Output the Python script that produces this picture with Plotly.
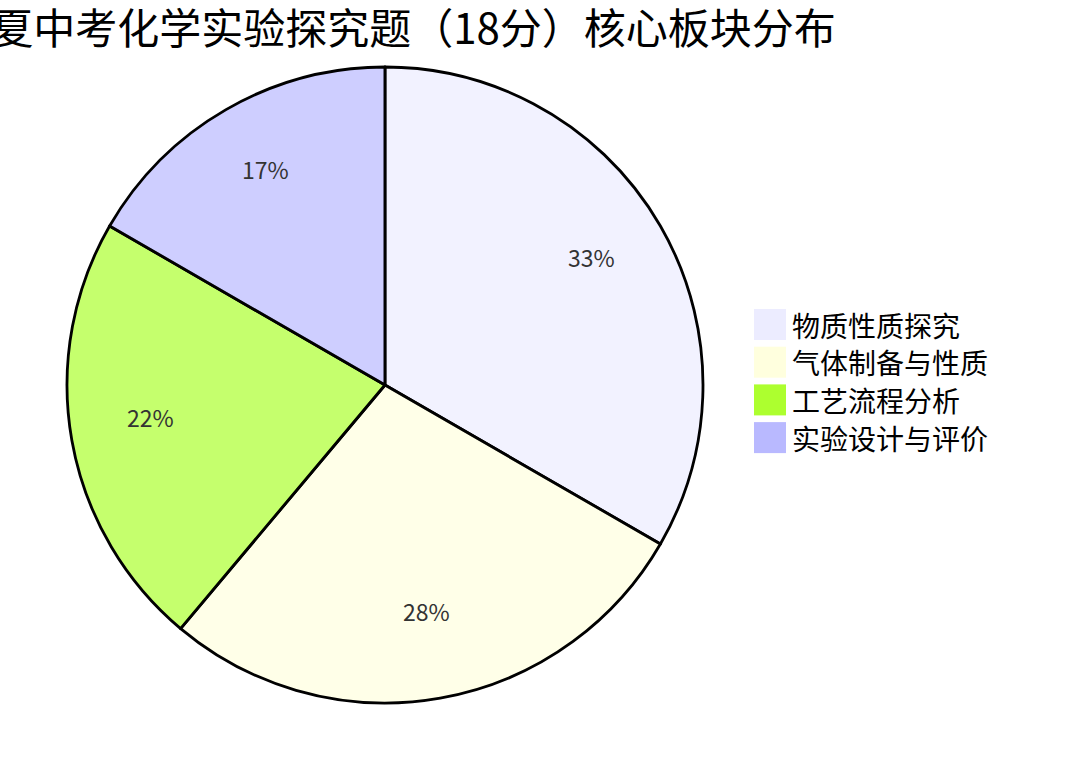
import math
import plotly.graph_objects as go

# 18分实验探究题的板块分值
labels = ['物质性质探究', '气体制备与性质', '工艺流程分析', '实验设计与评价']
scores = [6, 5, 4, 3]
base_colors = ['#ECECFF', '#FFFFDE', '#ADFF2F', '#B9B9FF']
title_text = '宁夏中考化学实验探究题（18分）核心板块分布'

W, H = 1080, 770
FONT = 'Noto Sans CJK SC'

# pie box in pixels
CX, CY, R = 385, 385, 318


def fade(hex_color, a=0.7):
    r, g, b = (int(hex_color[i:i + 2], 16) for i in (1, 3, 5))
    return 'rgba(%d,%d,%d,%.2f)' % (r, g, b, a)


pie = go.Pie(
    labels=labels,
    values=scores,
    sort=False,
    direction='clockwise',
    rotation=0,
    marker=dict(colors=[fade(c) for c in base_colors],
                line=dict(color='black', width=2.8)),
    textinfo='none',
    hoverinfo='label+value+percent',
    showlegend=False,
    domain=dict(x=[(CX - R) / W, (CX + R) / W], y=[1 - (CY + R) / H, 1 - (CY - R) / H]),
)

fig = go.Figure(pie)

notes, shapes = [], []

# percent labels at 3/4 of the radius, like the original chart
total = sum(scores)
cum = 0
for v in scores:
    ang = 2 * math.pi * (cum + v / 2) / total
    cum += v
    px = CX + 0.75 * R * math.sin(ang)
    py = CY - 0.75 * R * math.cos(ang)
    notes.append(dict(text='%d%%' % round(100 * v / total),
                      xref='paper', yref='paper', x=px / W, y=1 - py / H,
                      xanchor='center', yanchor='middle', yshift=9, showarrow=False,
                      font=dict(family=FONT, size=23, color='#333333')))

# legend drawn by hand so the swatches keep full colour
for i, (lab, col) in enumerate(zip(labels, base_colors)):
    yc = 324.5 + i * 37.7
    shapes.append(dict(type='rect', xref='paper', yref='paper',
                       x0=754 / W, x1=786 / W,
                       y0=1 - (yc + 15.5) / H, y1=1 - (yc - 15.5) / H,
                       fillcolor=col, line=dict(width=0)))
    notes.append(dict(text=lab, xref='paper', yref='paper',
                      x=790 / W, y=1 - yc / H, xanchor='left', yanchor='middle',
                      showarrow=False, font=dict(family=FONT, size=28, color='black')))

fig.update_layout(
    width=W, height=H,
    margin=dict(l=0, r=0, t=0, b=0),
    paper_bgcolor='white',
    title=dict(text=title_text, x=392.5 / W, xanchor='center', xref='container',
               y=1 - 29 / H, yanchor='middle',
               font=dict(family=FONT, size=42, color='black')),
    shapes=shapes,
    annotations=notes,
)

fig.write_html('out.html', config={'displayModeBar': False},
               post_script="document.body.style.margin='0';")
